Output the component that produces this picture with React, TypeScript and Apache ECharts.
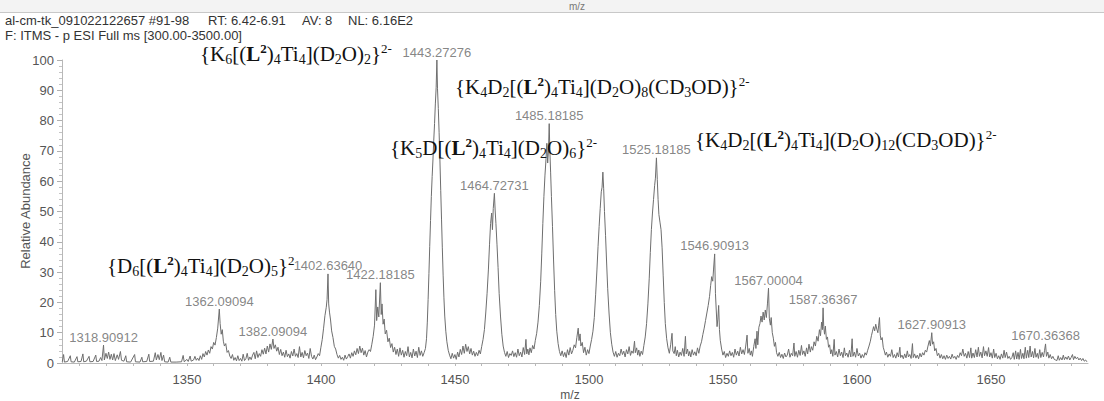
import React, { useEffect, useRef } from "react";
import * as echarts from "echarts";

// ---- data ----
const xLabelValues = [1350, 1400, 1450, 1500, 1550, 1600, 1650];
const xTickValues = [
  1310, 1320, 1330, 1340, 1350, 1360, 1370, 1380, 1390, 1400, 1410, 1420, 1430, 1440, 1450, 1460, 1470, 1480,
  1490, 1500, 1510, 1520, 1530, 1540, 1550, 1560, 1570, 1580, 1590, 1600, 1610, 1620, 1630, 1640, 1650, 1660,
  1670, 1680,
];

const headerFields = ["al-cm-tk_091022122657 #91-98", "RT: 6.42-6.91", "AV: 8", "NL: 6.16E2"];
const headerLine2 = "F: ITMS - p ESI Full ms [300.00-3500.00]";

// labelled peaks: [m/z, relative abundance]
const peakLabels: [number, number][] = [
  [1318.90912, 5.9],
  [1362.09094, 17.8],
  [1382.09094, 7.9],
  [1402.6364, 29.4],
  [1422.18185, 26.5],
  [1443.27276, 100],
  [1464.72731, 56],
  [1485.18185, 79],
  [1525.18185, 67.7],
  [1546.90913, 36],
  [1567.00004, 24.7],
  [1587.36367, 18.2],
  [1627.90913, 10],
  [1670.36368, 6.3],
];

// profile spectrum: [m/z, relative abundance]
const spectrum: [number, number][] = [
  [1303.5,0.4],[1304.0,2.8],[1304.3,0.3],[1305.5,0.5],[1306.5,2.4],[1306.8,0.4],[1308.0,0.3],[1309.0,2.1],[1309.3,0.4],
  [1310.5,0.5],[1311.2,3.0],[1311.5,0.4],[1312.5,0.6],[1313.5,2.2],[1313.8,0.4],[1315.0,0.5],[1316.0,2.6],[1316.3,0.5],
  [1317.2,0.6],[1317.8,1.8],[1318.3,0.8],[1318.9,5.9],[1319.2,1.0],[1319.8,3.2],[1320.3,1.5],[1320.8,3.6],[1321.3,1.2],
  [1321.8,2.9],[1322.3,1.0],[1322.8,3.1],[1323.3,0.8],[1324.0,2.7],[1324.5,1.2],[1325.2,3.8],[1325.6,0.9],[1326.5,0.6],
  [1327.2,2.4],[1327.5,0.4],[1329.0,0.3],[1330.5,2.8],[1330.8,0.4],[1332.5,0.3],[1333.2,1.9],[1333.5,0.4],[1335.0,0.5],
  [1335.8,2.9],[1336.1,0.5],[1337.5,0.6],[1338.2,3.4],[1338.6,1.0],[1339.2,2.8],[1339.7,1.1],[1340.3,3.5],[1340.7,0.8],
  [1341.3,2.6],[1341.7,0.4],[1343.0,0.3],[1343.6,1.9],[1344.0,0.3],[1346.0,0.3],[1348.0,0.4],[1348.6,2.5],[1349.0,0.4],
  [1350.0,1.2],[1350.5,0.5],[1351.2,2.3],[1351.6,0.6],[1352.5,1.0],[1353.0,2.2],[1353.5,0.9],[1354.0,1.6],[1354.5,0.8],
  [1355.0,2.4],[1355.5,1.2],[1356.0,3.1],[1356.5,2.0],[1357.0,3.8],[1357.5,2.6],[1358.0,4.3],[1358.5,3.2],[1359.0,5.4],
  [1359.5,4.6],[1360.0,6.8],[1360.5,5.9],[1361.0,8.4],[1361.5,11.5],[1362.09,17.8],[1362.4,13.0],[1362.8,9.5],[1363.2,11.0],
  [1363.6,7.2],[1364.0,5.6],[1364.5,6.4],[1365.0,3.5],[1365.5,4.1],[1366.0,2.3],[1366.5,1.5],[1367.0,2.8],[1367.5,0.9],
  [1368.0,1.8],[1368.5,0.7],[1369.0,2.4],[1369.5,0.8],
  [1370.0,1.5],[1370.5,0.6],[1371.0,2.9],[1371.5,0.8],[1372.0,1.4],[1372.5,3.2],[1373.0,0.9],[1373.5,2.0],[1374.0,1.1],
  [1374.5,2.6],[1375.0,3.5],[1375.5,1.4],[1376.0,4.0],[1376.5,1.8],[1377.0,3.1],[1377.5,2.2],[1378.0,4.4],[1378.5,2.9],
  [1379.0,4.9],[1379.5,3.0],[1380.0,5.6],[1380.5,3.6],[1381.0,6.3],[1381.5,4.5],[1382.09,7.9],[1382.5,4.8],[1383.0,6.0],
  [1383.5,3.9],[1384.0,5.2],[1384.5,2.8],[1385.0,4.5],[1385.5,2.4],[1386.0,3.6],[1386.5,1.9],[1387.0,4.2],[1387.5,2.1],
  [1388.0,3.0],[1388.5,1.6],[1389.0,3.8],[1389.5,2.3],[1390.0,4.6],[1390.5,2.2],[1391.0,3.1],[1391.5,1.8],[1392.0,5.4],
  [1392.5,2.0],[1393.0,3.5],[1393.5,1.7],[1394.0,4.1],[1394.5,2.4],[1395.0,3.3],[1395.5,1.5],[1396.0,4.8],[1396.5,2.2],
  [1397.0,1.3],[1397.5,2.6],[1398.0,1.1],
  [1398.5,2.0],[1399.0,3.1],[1399.5,2.4],[1400.0,5.2],[1400.5,7.8],[1401.0,11.5],[1401.5,15.6],[1402.0,18.4],[1402.3,21.0],
  [1402.64,29.4],[1402.9,19.5],[1403.2,16.8],[1403.6,14.2],[1404.0,10.6],[1404.5,8.4],[1405.0,5.5],[1405.5,4.6],[1406.0,2.8],
  [1406.5,1.6],[1407.0,2.5],[1407.5,1.2],[1408.0,1.9],[1408.5,0.9],[1409.0,2.6],[1409.5,1.3],[1410.0,2.1],[1410.5,3.0],
  [1411.0,1.6],[1411.5,3.4],[1412.0,2.2],[1412.5,4.0],[1413.0,2.7],[1413.5,4.8],[1414.0,3.1],[1414.5,5.6],[1415.0,3.4],
  [1415.5,4.9],[1416.0,2.6],[1416.5,4.1],[1417.0,2.0],[1417.5,3.6],
  [1418.0,4.4],[1418.5,3.8],[1419.0,6.2],[1419.5,8.8],[1420.0,12.5],[1420.5,24.2],[1420.8,14.0],[1421.2,18.5],[1421.6,15.2],
  [1422.18,26.5],[1422.5,16.0],[1422.8,19.5],[1423.2,12.8],[1423.6,14.5],[1424.0,9.6],[1424.5,10.8],[1425.0,7.0],[1425.5,8.2],
  [1426.0,5.1],[1426.5,6.4],[1427.0,3.6],[1427.5,5.2],[1428.0,2.8],[1428.5,4.6],[1429.0,2.2],[1429.5,5.0],[1430.0,2.6],
  [1430.5,4.2],[1431.0,1.9],[1431.5,3.8],[1432.0,2.4],[1432.5,5.4],[1433.0,2.0],[1433.5,3.5],[1434.0,1.7],[1434.5,4.6],
  [1435.0,2.3],[1435.5,3.9],[1436.0,1.8],[1436.5,5.2],[1437.0,2.5],[1437.5,4.0],[1438.0,2.2],[1438.5,3.4],[1439.0,4.8],
  [1439.4,8.0],[1439.7,13.5],[1440.0,21.0],[1440.3,29.5],[1440.6,38.5],[1440.9,47.0],[1441.2,55.0],[1441.5,61.5],[1441.8,67.0],
  [1442.1,73.5],[1442.4,79.0],[1442.7,85.5],[1443.0,91.0],[1443.27,100],[1443.5,90.5],[1443.8,84.0],[1444.1,76.0],[1444.4,67.0],
  [1444.7,57.0],[1445.0,47.5],[1445.3,38.0],[1445.6,29.0],[1445.9,21.5],[1446.2,15.5],[1446.6,10.5],[1447.0,7.0],[1447.5,4.2],
  [1448.0,2.6],[1448.5,1.4],[1449.0,3.2],[1449.5,1.6],[1450.0,2.8],[1450.5,1.2],[1451.0,3.6],[1451.5,2.0],[1452.0,4.5],
  [1452.5,2.8],[1453.0,5.6],[1453.5,3.2],[1454.0,6.2],[1454.5,3.8],[1455.0,5.4],[1455.5,3.0],[1456.0,4.8],[1456.5,2.6],
  [1457.0,3.9],[1457.5,2.2],[1458.0,3.5],[1458.5,2.4],[1459.0,4.2],
  [1459.5,3.0],[1460.0,5.5],[1460.5,7.8],[1461.0,11.0],[1461.5,16.5],[1462.0,23.0],[1462.5,31.0],[1462.9,39.0],[1463.3,46.0],
  [1463.7,49.5],[1464.0,44.0],[1464.3,51.0],[1464.73,56.0],[1465.0,50.5],[1465.3,46.0],[1465.7,39.0],[1466.1,31.5],[1466.5,23.0],
  [1467.0,15.5],[1467.5,9.5],[1468.0,5.6],[1468.5,3.5],[1469.0,2.2],[1469.5,3.8],[1470.0,1.8],[1470.5,3.1],[1471.0,2.5],
  [1471.5,4.0],[1472.0,2.1],[1472.5,3.4],[1473.0,1.9],[1473.5,4.6],[1474.0,2.4],[1474.5,3.6],[1475.0,2.0],[1475.5,5.1],
  [1476.0,2.8],[1476.5,7.8],[1476.8,3.0],[1477.2,4.6],[1477.6,2.7],[1478.0,5.0],
  [1478.5,3.4],[1479.0,5.8],[1479.5,4.6],[1480.0,7.5],[1480.5,9.8],[1481.0,13.5],[1481.5,19.0],[1482.0,27.0],[1482.4,36.0],
  [1482.8,46.0],[1483.2,55.0],[1483.6,62.0],[1484.0,67.5],[1484.3,72.5],[1484.6,66.0],[1484.9,70.0],[1485.18,79.0],[1485.4,70.5],
  [1485.7,63.0],[1486.0,55.0],[1486.4,45.0],[1486.8,34.0],[1487.2,24.0],[1487.6,16.0],[1488.0,10.5],[1488.5,6.4],[1489.0,3.8],
  [1489.5,2.4],[1490.0,4.0],[1490.5,2.1],[1491.0,3.5],[1491.5,1.8],[1492.0,4.4],[1492.5,2.6],[1493.0,5.1],[1493.5,3.0],
  [1494.0,4.2],[1494.5,6.0],[1495.0,5.0],[1495.5,8.5],[1496.0,11.5],[1496.3,7.4],[1496.7,9.6],[1497.0,5.6],[1497.5,6.8],
  [1498.0,3.4],[1498.5,5.2],[1499.0,2.6],
  [1499.5,4.4],[1500.0,3.1],[1500.5,5.6],[1501.0,7.8],[1501.5,10.5],[1502.0,15.0],[1502.5,22.5],[1503.0,31.0],[1503.4,38.5],
  [1503.8,45.0],[1504.2,51.0],[1504.6,56.5],[1504.9,58.0],[1505.2,63.0],[1505.5,57.5],[1505.8,50.0],[1506.2,42.0],[1506.6,33.0],
  [1507.0,24.5],[1507.5,16.5],[1508.0,10.0],[1508.5,6.2],[1509.0,3.6],[1509.5,2.2],[1510.0,3.8],[1510.5,1.9],[1511.0,3.2],
  [1511.5,2.4],[1512.0,4.6],[1512.5,2.8],[1513.0,3.9],[1513.5,2.0],[1514.0,4.4],[1514.5,3.0],[1515.0,5.4],[1515.5,2.5],
  [1516.0,4.0],[1516.5,3.2],[1517.0,7.2],[1517.3,3.4],[1517.8,5.0],[1518.2,2.6],[1518.6,4.3],[1519.0,2.2],
  [1519.5,3.9],[1520.0,2.8],[1520.5,5.8],[1521.0,8.6],[1521.5,13.0],[1522.0,19.5],[1522.5,28.0],[1522.9,36.5],[1523.3,44.0],
  [1523.7,49.5],[1524.1,54.0],[1524.5,58.5],[1524.8,61.0],[1525.18,67.7],[1525.5,60.5],[1525.8,54.0],[1526.1,49.0],[1526.5,46.5],
  [1526.9,44.0],[1527.3,38.0],[1527.7,29.0],[1528.1,20.0],[1528.5,13.0],[1529.0,8.0],[1529.5,5.0],[1530.0,3.2],[1530.5,6.0],
  [1531.0,9.8],[1531.3,4.0],[1531.8,3.1],[1532.2,5.4],[1532.6,2.4],[1533.0,4.2],[1533.5,2.0],[1534.0,3.6],[1534.5,2.5],
  [1535.0,4.8],[1535.5,2.2],[1536.0,8.8],[1536.3,3.0],[1536.8,4.6],[1537.2,2.3],[1537.6,3.8],[1538.0,2.0],[1538.5,4.4],
  [1539.0,2.6],[1539.5,3.7],[1540.0,2.4],[1540.5,5.0],[1541.0,3.2],
  [1541.5,5.6],[1542.0,7.0],[1542.5,9.4],[1543.0,11.5],[1543.5,14.0],[1544.0,16.5],[1544.5,19.0],[1545.0,22.0],[1545.4,25.5],
  [1545.8,28.5],[1546.2,27.0],[1546.5,31.0],[1546.91,36.0],[1547.2,23.0],[1547.5,17.5],[1547.8,12.0],[1548.1,14.5],[1548.4,19.0],
  [1548.7,11.0],[1549.0,7.5],[1549.5,4.6],[1550.0,2.6],[1550.5,3.8],[1551.0,1.8],[1551.5,3.2],[1552.0,2.2],[1552.5,4.0],
  [1553.0,2.4],[1553.5,3.5],[1554.0,1.9],[1554.5,4.6],[1555.0,2.6],[1555.5,3.9],[1556.0,2.3],[1556.5,5.2],[1557.0,3.0],
  [1557.5,4.4],[1558.0,2.8],[1558.5,5.6],[1559.0,9.2],[1559.3,3.2],[1559.8,4.8],[1560.2,2.6],[1560.6,4.0],[1561.0,2.2],
  [1561.5,5.5],
  [1562.0,8.0],[1562.3,4.8],[1562.7,10.5],[1563.0,6.0],[1563.4,11.8],[1563.8,13.0],[1564.2,15.5],[1564.6,13.5],[1565.0,16.8],
  [1565.4,14.2],[1565.8,17.5],[1566.2,15.0],[1566.6,19.5],[1567.0,24.7],[1567.3,14.8],[1567.7,12.5],[1568.0,15.0],[1568.4,10.0],
  [1568.8,8.2],[1569.2,5.5],[1569.6,6.8],[1570.0,3.4],[1570.5,2.2],[1571.0,3.5],[1571.5,1.8],[1572.0,2.9],[1572.5,1.5],
  [1573.0,3.3],[1573.5,2.0],[1574.0,2.6],[1574.5,4.6],[1575.0,1.9],[1575.5,3.2],[1576.0,2.4],[1576.5,6.6],[1576.8,2.2],
  [1577.3,3.8],[1577.8,1.9],[1578.3,4.2],[1578.8,2.5],[1579.3,5.8],[1579.7,2.8],[1580.2,4.0],[1580.7,2.2],[1581.2,5.0],
  [1581.6,3.0],[1582.1,6.2],[1582.6,3.6],
  [1583.0,5.4],[1583.5,4.2],[1584.0,7.0],[1584.5,5.6],[1585.0,8.8],[1585.5,7.2],[1586.0,11.0],[1586.4,9.0],[1586.8,13.5],
  [1587.1,11.0],[1587.36,18.2],[1587.6,12.0],[1587.9,9.5],[1588.2,12.2],[1588.6,7.8],[1589.0,8.6],[1589.4,5.2],[1589.8,6.0],
  [1590.2,3.0],[1590.6,4.4],[1591.0,2.2],[1591.5,7.8],[1591.8,2.6],[1592.3,3.8],[1592.8,2.0],[1593.3,4.6],[1593.8,2.4],
  [1594.3,3.6],[1594.8,1.8],[1595.3,5.0],[1595.7,2.4],[1596.2,3.3],[1596.7,1.9],[1597.2,4.2],[1597.7,2.0],[1598.2,8.0],
  [1598.5,2.2],[1599.0,3.6],[1599.5,1.9],[1600.0,4.8],[1600.5,2.3],[1601.0,3.2],[1601.5,1.6],[1602.0,2.8],[1602.5,1.8],
  [1603.0,3.4],
  [1603.5,2.6],[1604.0,4.2],[1604.5,5.6],[1605.0,7.2],[1605.4,9.0],[1605.8,10.5],[1606.2,12.0],[1606.6,10.6],[1607.0,12.8],
  [1607.4,11.2],[1607.8,10.0],[1608.1,12.5],[1608.4,15.0],[1608.7,9.2],[1609.0,7.6],[1609.4,8.4],[1609.8,5.2],[1610.2,4.0],
  [1610.6,2.6],[1611.0,3.6],[1611.5,1.9],[1612.0,3.0],[1612.5,2.2],[1613.0,4.4],[1613.5,1.8],[1614.0,2.8],[1614.5,1.6],
  [1615.0,3.4],[1615.5,2.0],[1616.0,5.2],[1616.3,1.8],[1616.8,2.6],[1617.3,1.4],[1617.8,3.0],[1618.3,1.7],[1618.8,4.0],
  [1619.2,2.0],[1619.7,2.8],[1620.2,1.5],[1620.7,6.4],[1621.0,1.8],[1621.5,3.0],[1622.0,1.6],[1622.5,2.6],[1623.0,1.4],
  [1623.5,3.2],
  [1624.0,2.0],[1624.5,3.4],[1625.0,2.6],[1625.5,4.2],[1626.0,3.6],[1626.5,5.6],[1627.0,7.4],[1627.4,5.6],[1627.91,10.0],
  [1628.2,6.2],[1628.6,7.0],[1629.0,4.0],[1629.5,4.8],[1630.0,2.4],[1630.5,3.2],[1631.0,1.6],[1631.5,2.8],[1632.0,1.4],
  [1632.5,2.4],[1633.0,1.2],[1633.5,2.6],[1634.0,1.5],[1634.5,2.2],[1635.0,1.3],[1635.5,2.9],[1636.0,1.6],[1636.5,2.2],
  [1637.0,1.2],[1637.5,2.5],[1638.0,1.8],[1638.5,3.4],[1639.0,2.4],[1639.5,4.6],[1640.0,2.2],[1640.5,3.2],[1641.0,1.6],
  [1641.5,3.8],[1642.0,1.8],[1642.5,5.0],[1642.8,1.6],[1643.3,3.3],[1643.8,1.8],[1644.3,4.4],[1644.8,2.0],[1645.3,5.2],
  [1645.7,2.2],[1646.2,3.6],[1646.7,1.7],[1647.2,5.4],[1647.6,2.4],[1648.1,4.0],[1648.6,2.2],[1649.1,5.1],[1649.5,2.0],
  [1650.0,3.4],[1650.5,1.6],[1651.0,4.6],[1651.4,1.8],[1651.9,3.2],[1652.4,1.4],[1652.9,2.4],[1653.4,1.2],[1653.9,3.0],
  [1654.4,1.6],[1654.9,4.2],[1655.3,1.8],[1655.8,3.6],[1656.3,1.5],[1656.8,2.2],[1657.3,1.2],[1657.8,1.8],[1658.3,3.4],
  [1658.7,1.2],[1659.2,4.0],[1659.6,1.3],[1660.1,3.5],[1660.5,1.2],[1661.0,4.5],[1661.4,1.5],[1661.9,3.2],[1662.3,1.4],
  [1662.8,5.2],[1663.2,1.6],[1663.7,4.2],[1664.1,1.8],[1664.6,5.6],[1665.0,2.0],[1665.5,3.8],[1665.9,1.7],[1666.4,4.8],
  [1666.8,1.9],[1667.3,3.2],[1667.7,1.5],[1668.2,4.4],[1668.6,1.8],[1669.1,3.5],[1669.6,2.0],[1670.0,4.2],[1670.36,6.3],
  [1670.7,2.2],[1671.2,3.6],[1671.6,1.6],[1672.1,2.8],[1672.6,1.4],[1673.1,2.2],[1673.6,1.2],[1674.1,1.0],[1674.6,0.8],
  [1675.1,2.4],[1675.5,0.9],[1676.0,1.8],[1676.5,1.0],[1677.0,2.6],[1677.4,1.1],[1677.9,2.0],[1678.4,1.2],[1678.9,2.3],
  [1679.4,1.0],[1679.9,1.8],[1680.4,2.8],[1680.8,1.1],[1681.3,2.2],[1681.8,1.4],[1682.3,1.9],[1682.8,1.0],[1683.3,1.6],
  [1683.8,0.8],[1684.3,1.5],[1684.8,0.6],[1685.3,1.0],[1685.8,0.4],
];

// ion assignments as formula segments: n = normal, s = subscript, p = superscript, b = bold, bp = bold superscript
type Seg = [string, string];
const ionK6: Seg[] = [["n","{K"],["s","6"],["n","[("],["b","L"],["bp","2"],["n",")"],["s","4"],["n","Ti"],["s","4"],["n","](D"],["s","2"],["n","O)"],["s","2"],["n","}"],["p","2-"]];
const ionD6: Seg[] = [["n","{D"],["s","6"],["n","[("],["b","L"],["bp","2"],["n",")"],["s","4"],["n","Ti"],["s","4"],["n","](D"],["s","2"],["n","O)"],["s","5"],["n","}"],["p","2"]];
const ionK4D2a: Seg[] = [["n","{K"],["s","4"],["n","D"],["s","2"],["n","[("],["b","L"],["bp","2"],["n",")"],["s","4"],["n","Ti"],["s","4"],["n","](D"],["s","2"],["n","O)"],["s","8"],["n","(CD"],["s","3"],["n","OD)}"],["p","2-"]];
const ionK5D: Seg[] = [["n","{K"],["s","5"],["n","D[("],["b","L"],["bp","2"],["n",")"],["s","4"],["n","Ti"],["s","4"],["n","](D"],["s","2"],["n","O)"],["s","6"],["n","}"],["p","2-"]];
const ionK4D2b: Seg[] = [["n","{K"],["s","4"],["n","D"],["s","2"],["n","[("],["b","L"],["bp","2"],["n",")"],["s","4"],["n","Ti"],["s","4"],["n","](D"],["s","2"],["n","O)"],["s","12"],["n","(CD"],["s","3"],["n","OD)}"],["p","2-"]];

const SERIF = '"Liberation Serif", "Times New Roman", serif';
const SANS = '"Liberation Sans", Arial, sans-serif';

function richText(segs: Seg[]): string {
  return segs.map(([s, t]) => (s === "n" ? t : `{${s}|${t}}`)).join("");
}

function formula(segs: Seg[], x: number, y: number) {
  return {
    type: "text",
    x,
    y,
    silent: true,
    z: 10,
    style: {
      text: richText(segs),
      fontFamily: SERIF,
      fontSize: 21,
      lineHeight: 24,
      fill: "#111",
      align: "left",
      verticalAlign: "middle",
      rich: {
        s: { fontFamily: SERIF, fontSize: 14, lineHeight: 13, verticalAlign: "bottom", fill: "#111" },
        p: { fontFamily: SERIF, fontSize: 13, lineHeight: 12, verticalAlign: "top", fill: "#111" },
        b: { fontFamily: SERIF, fontSize: 21, lineHeight: 24, fontWeight: "bold", fill: "#111" },
        bp: { fontFamily: SERIF, fontSize: 13, lineHeight: 12, fontWeight: "bold", verticalAlign: "top", fill: "#111" },
      },
    },
  };
}

function headerText(text: string, x: number, y: number) {
  return {
    type: "text",
    x,
    y,
    silent: true,
    style: { text, fontSize: 13, lineHeight: 13, fontFamily: SANS, fill: "#333", align: "left", verticalAlign: "middle" },
  };
}

export default function App() {
  const ref = useRef<HTMLDivElement>(null);

  useEffect(() => {
    document.body.style.margin = "0";
    if (!ref.current) return;
    const chart = echarts.init(ref.current, undefined, { renderer: "svg" });
    chart.setOption({
      animation: false,
      backgroundColor: "#ffffff",
      grid: { left: 62, right: 16, top: 60, bottom: 38 },
      xAxis: {
        type: "value",
        min: 1303.4,
        max: 1686.2,
        axisLine: { show: true, lineStyle: { color: "#b8b8b8", width: 1 } },
        axisTick: { show: true, customValues: xTickValues, length: 3, lineStyle: { color: "#b8b8b8" } },
        axisLabel: {
          customValues: xLabelValues,
          color: "#555",
          fontSize: 13,
          fontFamily: SANS,
          margin: 10,
          formatter: (v: number) => String(v),
        },
        splitLine: { show: false },
      },
      yAxis: {
        type: "value",
        min: 0,
        max: 100,
        interval: 10,
        axisLine: { show: true, lineStyle: { color: "#b8b8b8", width: 1 } },
        axisTick: { show: true, length: 5, lineStyle: { color: "#b0b0b0" } },
        minorTick: { show: true, splitNumber: 5, length: 3, lineStyle: { color: "#c4c4c4" } },
        axisLabel: { color: "#555", fontSize: 13, fontFamily: SANS, margin: 8 },
        splitLine: { show: false },
      },
      graphic: [
        { type: "rect", shape: { x: 0, y: 0, width: 1104, height: 12 }, style: { fill: "#f3f3f3" }, silent: true },
        { type: "line", shape: { x1: 0, y1: 12.5, x2: 1104, y2: 12.5 }, style: { stroke: "#c8c8c8", lineWidth: 1 }, silent: true },
        { type: "text", x: 577, y: 6, style: { text: "m/z", fontSize: 10, lineHeight: 10, fontFamily: SANS, fill: "#777", align: "center", verticalAlign: "middle" }, silent: true },
        headerText(headerFields[0], 5, 20),
        headerText(headerFields[1], 208, 20),
        headerText(headerFields[2], 302, 20),
        headerText(headerFields[3], 348, 20),
        headerText(headerLine2, 5, 35),
        { type: "text", x: 25, y: 211, rotation: Math.PI / 2, style: { text: "Relative Abundance", fontSize: 13, fontFamily: SANS, fill: "#555", align: "center", verticalAlign: "middle" }, silent: true },
        { type: "text", x: 570, y: 395, style: { text: "m/z", fontSize: 12, lineHeight: 11, fontFamily: SANS, fill: "#555", align: "center", verticalAlign: "middle" }, silent: true },
        formula(ionK6, 200, 54),
        formula(ionD6, 107, 266),
        formula(ionK4D2a, 455, 87),
        formula(ionK5D, 390, 148),
        formula(ionK4D2b, 695, 140),
      ],
      series: [
        {
          type: "line",
          data: spectrum,
          symbol: "none",
          showSymbol: false,
          silent: true,
          lineStyle: { color: "#6e6e6e", width: 1 },
          z: 2,
        },
        {
          type: "scatter",
          data: peakLabels,
          symbolSize: 1,
          itemStyle: { color: "rgba(0,0,0,0)" },
          silent: true,
          z: 5,
          label: {
            show: true,
            position: "top",
            distance: 1,
            color: "#666",
            fontSize: 13,
            fontFamily: SANS,
            formatter: (p: any) => p.value[0].toFixed(5),
          },
        },
      ],
    });
    return () => chart.dispose();
  }, []);

  return <div ref={ref} style={{ width: 1104, height: 401 }} />;
}
